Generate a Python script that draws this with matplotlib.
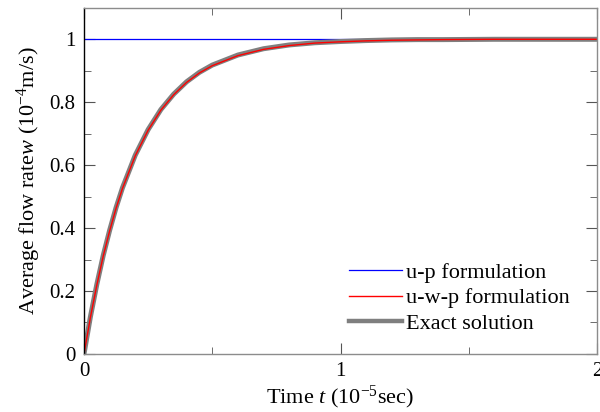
import matplotlib.pyplot as plt
from matplotlib.ticker import MultipleLocator

plt.rcParams['font.family'] = 'Liberation Serif'
plt.rcParams['mathtext.fontset'] = 'custom'
plt.rcParams['mathtext.rm'] = 'Liberation Serif'
plt.rcParams['mathtext.it'] = 'Liberation Serif:italic'

# time (1e-5 sec) and average flow rate (1e-4 m/s)
time = [0, 0.025, 0.05, 0.075, 0.1, 0.125, 0.15, 0.2, 0.25, 0.3, 0.35, 0.4, 0.45,
        0.5, 0.6, 0.7, 0.8, 0.9, 1.0, 1.1, 1.2, 1.3, 1.4, 1.6, 1.8, 2.0]
w_exact = [0, 0.118, 0.221, 0.313, 0.393, 0.465, 0.528, 0.632, 0.713, 0.777, 0.826,
           0.865, 0.895, 0.918, 0.950, 0.970, 0.982, 0.989, 0.993, 0.996, 0.998,
           0.999, 0.999, 1.0, 1.0, 1.0]
w_uwp = [0, 0.116, 0.219, 0.311, 0.391, 0.463, 0.526, 0.630, 0.711, 0.775, 0.824,
         0.863, 0.893, 0.916, 0.948, 0.968, 0.980, 0.988, 0.992, 0.995, 0.997,
         0.998, 0.999, 1.0, 1.0, 1.0]
time_up = [0, 2.0]
w_up = [1.0, 1.0]

fig = plt.figure(figsize=(6, 4.12), dpi=100)
ax = fig.add_axes([0.14, 0.141, 0.855, 0.84])

ax.plot(time_up, w_up, color='#0000ff', lw=0.9, label='u-p formulation')
ax.plot(time, w_exact, color='#7f7f7f', lw=3.6, label='_exact')
ax.plot(time, w_uwp, color='#ff0000', lw=1.0, label='u-w-p formulation')
ax.plot([], [], color='#7f7f7f', lw=3.2, label='Exact solution')

ax.set_xlim(0, 2)
ax.set_ylim(0, 1.1)
ax.xaxis.set_major_locator(MultipleLocator(1))
ax.xaxis.set_minor_locator(MultipleLocator(0.5))
ax.yaxis.set_major_locator(MultipleLocator(0.2))
ax.yaxis.set_minor_locator(MultipleLocator(0.1))
ax.xaxis.set_major_formatter(plt.FuncFormatter(lambda v, p: f'{v:g}'))
ax.yaxis.set_major_formatter(plt.FuncFormatter(lambda v, p: f'{v:g}'))

for s in ['bottom', 'top', 'right']:
    ax.spines[s].set_color('#8c8c8c')
ax.spines['left'].set_color('black')
for s in ax.spines.values():
    s.set_linewidth(1.0)

ax.tick_params(which='both', direction='in', top=True, right=True,
               labelsize=15, color='#555555', pad=6)
ax.tick_params(which='major', length=8)
ax.tick_params(which='minor', length=5)

ax.set_xlabel('Time $t$ (10$^{-5}$sec)', fontsize=16, labelpad=2)
ax.set_ylabel('Average flow rate$w$ (10$^{-4}$m/s)', fontsize=16, labelpad=5)

ax.legend(loc='lower right', bbox_to_anchor=(0.985, 0.0), frameon=False,
          fontsize=16, handlelength=2.4, labelspacing=0.22, handletextpad=0.15)

fig.savefig('out.png', dpi=100)
